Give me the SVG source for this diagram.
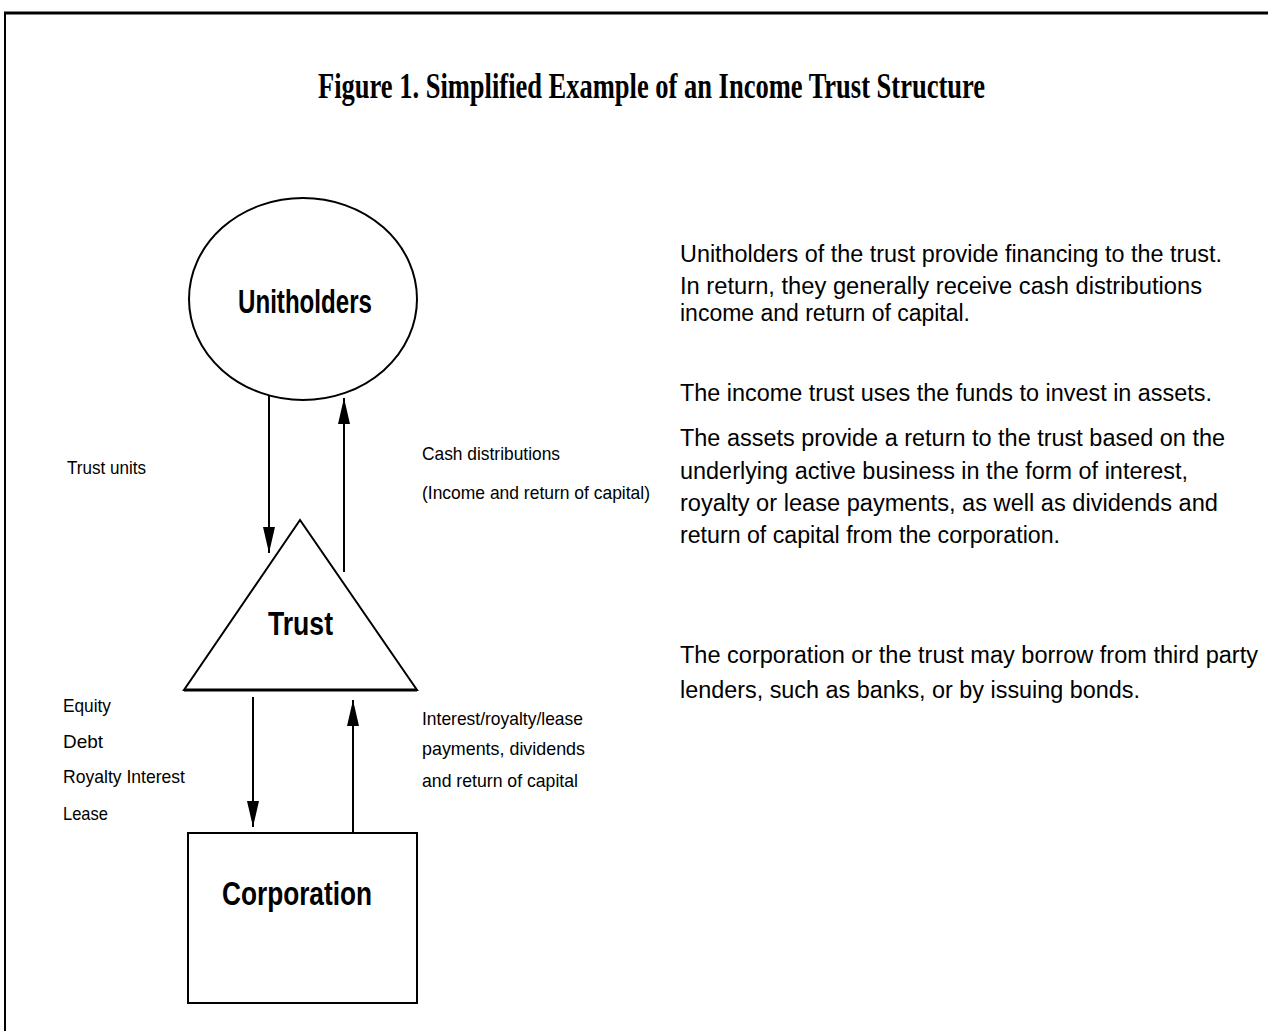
<svg xmlns="http://www.w3.org/2000/svg" width="1268" height="1031" viewBox="0 0 1268 1031">
<style>
.ln{stroke:#000;stroke-width:2;fill:none}
.shape{stroke:#000;stroke-width:2;fill:#fff}
.node{font-family:"Liberation Sans",Arial,sans-serif;font-weight:bold;font-size:34px;fill:#000}
.sm{font-family:"Liberation Sans",Arial,sans-serif;font-size:19px;fill:#000}
.body{font-family:"Liberation Sans",Arial,sans-serif;font-size:23px;fill:#000}
.title{font-family:"Liberation Serif","Times New Roman",serif;font-weight:bold;font-size:36px;fill:#000}
</style>
<defs>
<marker id="ahl" viewBox="0 0 26 12" refX="26" refY="6" markerWidth="26" markerHeight="12" markerUnits="userSpaceOnUse" orient="auto">
<path d="M0,0 L26,6 L0,12 Z" fill="#000"/>
</marker>
</defs>
<rect width="1268" height="1031" fill="#fff"/>
<g id="frame">
<line x1="4" y1="13" x2="1268" y2="13" stroke="#000" stroke-width="3"/>
<line x1="5" y1="12" x2="5" y2="1031" stroke="#000" stroke-width="2"/>
</g>
<text id="title" class="title" x="318" y="98" textLength="667" lengthAdjust="spacingAndGlyphs">Figure 1. Simplified Example of an Income Trust Structure</text>
<g id="connectors">
<line class="ln" x1="269" y1="393" x2="269" y2="553" marker-end="url(#ahl)"/>
<line class="ln" x1="344" y1="572" x2="344" y2="398" marker-end="url(#ahl)"/>
<line class="ln" x1="253" y1="697" x2="253" y2="827" marker-end="url(#ahl)"/>
<line class="ln" x1="353" y1="833" x2="353" y2="700" marker-end="url(#ahl)"/>
</g>
<g id="unitholders">
<ellipse class="shape" cx="303" cy="299" rx="114" ry="101"/>
<text class="node" x="238" y="313" textLength="134" lengthAdjust="spacingAndGlyphs">Unitholders</text>
</g>
<g id="trust">
<path class="shape" d="M300,520 L184,690 L417,690 Z"/>
<line x1="184" y1="690" x2="417" y2="690" stroke="#000" stroke-width="3"/>
<text class="node" x="268" y="635" textLength="65" lengthAdjust="spacingAndGlyphs">Trust</text>
</g>
<g id="corporation">
<rect class="shape" x="188" y="833" width="229" height="170"/>
<text class="node" x="222" y="905" textLength="150" lengthAdjust="spacingAndGlyphs">Corporation</text>
</g>
<g id="labels">
<text class="sm" x="67" y="474" textLength="79" lengthAdjust="spacingAndGlyphs">Trust units</text>
<text class="sm" x="422" y="460" textLength="138" lengthAdjust="spacingAndGlyphs">Cash distributions</text>
<text class="sm" x="422" y="499" textLength="228" lengthAdjust="spacingAndGlyphs">(Income and return of capital)</text>
<text class="sm" x="63" y="712" textLength="48" lengthAdjust="spacingAndGlyphs">Equity</text>
<text class="sm" x="63" y="748" textLength="40" lengthAdjust="spacingAndGlyphs">Debt</text>
<text class="sm" x="63" y="783" textLength="122" lengthAdjust="spacingAndGlyphs">Royalty Interest</text>
<text class="sm" x="63" y="820" textLength="45" lengthAdjust="spacingAndGlyphs">Lease</text>
<text class="sm" x="422" y="725" textLength="161" lengthAdjust="spacingAndGlyphs">Interest/royalty/lease</text>
<text class="sm" x="422" y="755" textLength="163" lengthAdjust="spacingAndGlyphs">payments, dividends</text>
<text class="sm" x="422" y="787" textLength="156" lengthAdjust="spacingAndGlyphs">and return of capital</text>
</g>
<g id="description">
<text class="body" x="680" y="262" textLength="542" lengthAdjust="spacingAndGlyphs">Unitholders of the trust provide financing to the trust.</text>
<text class="body" x="680" y="294" textLength="522" lengthAdjust="spacingAndGlyphs">In return, they generally receive cash distributions</text>
<text class="body" x="680" y="321" textLength="290" lengthAdjust="spacingAndGlyphs">income and return of capital.</text>
<text class="body" x="680" y="401" textLength="532" lengthAdjust="spacingAndGlyphs">The income trust uses the funds to invest in assets.</text>
<text class="body" x="680" y="446" textLength="545" lengthAdjust="spacingAndGlyphs">The assets provide a return to the trust based on the</text>
<text class="body" x="680" y="479" textLength="508" lengthAdjust="spacingAndGlyphs">underlying active business in the form of interest,</text>
<text class="body" x="680" y="511" textLength="538" lengthAdjust="spacingAndGlyphs">royalty or lease payments, as well as dividends and</text>
<text class="body" x="680" y="543" textLength="380" lengthAdjust="spacingAndGlyphs">return of capital from the corporation.</text>
<text class="body" x="680" y="663" textLength="578" lengthAdjust="spacingAndGlyphs">The corporation or the trust may borrow from third party</text>
<text class="body" x="680" y="698" textLength="460" lengthAdjust="spacingAndGlyphs">lenders, such as banks, or by issuing bonds.</text>
</g>
</svg>
